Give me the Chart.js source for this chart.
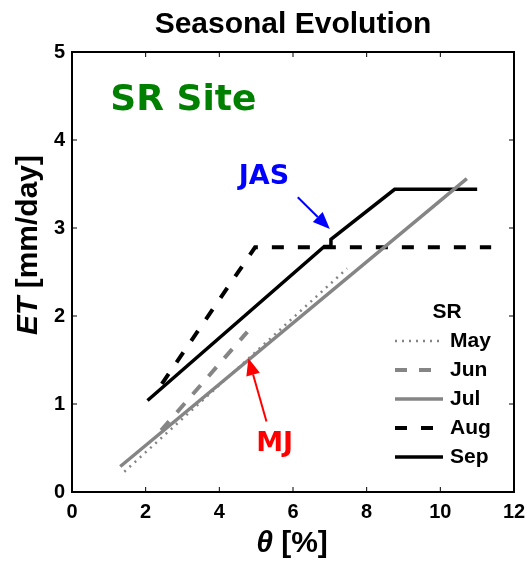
<!DOCTYPE html>
<html>
<head>
  <title>Seasonal Evolution</title>
  <style>
    body { margin: 0; background: #fff; }
  </style>
</head>
<body>
  <canvas id="myChart" width="527" height="561"></canvas>

  <script src="https://cdn.jsdelivr.net/npm/chart.js"></script>
  <script>
    // values (theta in %, ET in mm/day)
    var months = ['May', 'Jun', 'Jul', 'Aug', 'Sep'];
    var mayX = [1.42, 7.47];
    var mayY = [0.23, 2.54];
    var junX = [2.42, 4.76];
    var junY = [0.70, 1.82];
    var julX = [1.31, 10.72];
    var julY = [0.29, 3.56];
    var augX = [2.44, 4.97, 11.38];
    var augY = [1.23, 2.78, 2.78];
    var sepX = [2.05, 6.85, 7.03, 7.03, 8.76, 11.0];
    var sepY = [1.04, 2.79, 2.79, 2.87, 3.44, 3.44];
    var xTicks = [0, 2, 4, 6, 8, 10, 12];
    var yTicks = [0, 1, 2, 3, 4, 5];

    var sans = "'Liberation Sans', Arial, sans-serif";
    var dejavu = "'DejaVu Sans', sans-serif";
    var gray = '#858585';

    function pts(xs, ys) {
      return xs.map(function(x, i) { return { x: x, y: ys[i] }; });
    }

    var datasets = [
      { label: months[0], data: pts(mayX, mayY), borderColor: gray, borderWidth: 2.5, borderDash: [2, 5] },
      { label: months[1], data: pts(junX, junY), borderColor: gray, borderWidth: 4, borderDash: [12, 12] },
      { label: months[2], data: pts(julX, julY), borderColor: gray, borderWidth: 3.5 },
      { label: months[3], data: pts(augX, augY), borderColor: '#000', borderWidth: 4, borderDash: [12, 14] },
      { label: months[4], data: pts(sepX, sepY), borderColor: '#000', borderWidth: 3.5 }
    ];
    datasets.forEach(function(d) {
      d.showLine = true;
      d.pointRadius = 0;
      d.fill = false;
      d.tension = 0;
    });

    function arrow(ctx, x1, y1, x2, y2, color) {
      var a = Math.atan2(y2 - y1, x2 - x1);
      var len = 17, hw = 7;
      ctx.save();
      ctx.strokeStyle = color;
      ctx.fillStyle = color;
      ctx.lineWidth = 2;
      ctx.beginPath();
      ctx.moveTo(x1, y1);
      ctx.lineTo(x2 - Math.cos(a) * len, y2 - Math.sin(a) * len);
      ctx.stroke();
      ctx.beginPath();
      ctx.moveTo(x2, y2);
      ctx.lineTo(x2 - Math.cos(a) * len - Math.sin(a) * hw, y2 - Math.sin(a) * len + Math.cos(a) * hw);
      ctx.lineTo(x2 - Math.cos(a) * len + Math.sin(a) * hw, y2 - Math.sin(a) * len - Math.cos(a) * hw);
      ctx.closePath();
      ctx.fill();
      ctx.restore();
    }

    var extras = {
      id: 'extras',
      afterDraw: function(chart) {
        var ctx = chart.ctx;
        var ca = chart.chartArea;
        var xs = chart.scales.x, ys = chart.scales.y;

        // axes box and inward ticks
        ctx.save();
        ctx.strokeStyle = '#000';
        ctx.lineWidth = 2;
        ctx.strokeRect(ca.left, ca.top, ca.right - ca.left, ca.bottom - ca.top);
        ctx.lineWidth = 1;
        ctx.beginPath();
        xTicks.slice(1, -1).forEach(function(v) {
          var px = xs.getPixelForValue(v);
          ctx.moveTo(px, ca.bottom); ctx.lineTo(px, ca.bottom - 5);
          ctx.moveTo(px, ca.top); ctx.lineTo(px, ca.top + 5);
        });
        yTicks.slice(1, -1).forEach(function(v) {
          var py = ys.getPixelForValue(v);
          ctx.moveTo(ca.left, py); ctx.lineTo(ca.left + 5, py);
          ctx.moveTo(ca.right, py); ctx.lineTo(ca.right - 5, py);
        });
        ctx.stroke();

        // title
        ctx.fillStyle = '#000';
        ctx.textAlign = 'center';
        ctx.textBaseline = 'alphabetic';
        ctx.font = 'bold 30px ' + sans;
        ctx.fillText('Seasonal Evolution', (ca.left + ca.right) / 2, 33);

        // x axis title
        ctx.font = 'italic bold 30px ' + sans;
        var w1 = ctx.measureText('\u03b8').width;
        ctx.font = 'bold 30px ' + sans;
        var w2 = ctx.measureText(' [%]').width;
        var x0 = 292 - (w1 + w2) / 2;
        ctx.textAlign = 'left';
        ctx.font = 'italic bold 30px ' + sans;
        ctx.fillText('\u03b8', x0, 552);
        ctx.font = 'bold 30px ' + sans;
        ctx.fillText(' [%]', x0 + w1, 552);

        // y axis title
        ctx.save();
        ctx.translate(37, 245);
        ctx.rotate(-Math.PI / 2);
        ctx.font = 'italic bold 30px ' + sans;
        var e1 = ctx.measureText('ET').width;
        ctx.font = 'bold 30px ' + sans;
        var e2 = ctx.measureText(' [mm/day]').width;
        var s0 = -(e1 + e2) / 2;
        ctx.font = 'italic bold 30px ' + sans;
        ctx.fillText('ET', s0, 0);
        ctx.font = 'bold 30px ' + sans;
        ctx.fillText(' [mm/day]', s0 + e1, 0);
        ctx.restore();

        // annotations
        ctx.font = 'bold 36px ' + dejavu;
        ctx.fillStyle = '#008000';
        ctx.textBaseline = 'middle';
        ctx.fillText('SR Site', xs.getPixelForValue(1.04), ys.getPixelForValue(4.45));

        ctx.font = 'bold 27px ' + dejavu;
        ctx.textAlign = 'center';
        ctx.fillStyle = '#0000ff';
        ctx.fillText('JAS', xs.getPixelForValue(5.21), ys.getPixelForValue(3.58));
        arrow(ctx, xs.getPixelForValue(6.13), ys.getPixelForValue(3.35),
              xs.getPixelForValue(7.0), ys.getPixelForValue(2.99), '#0000ff');

        ctx.fillStyle = '#ff0000';
        ctx.fillText('MJ', xs.getPixelForValue(5.5), ys.getPixelForValue(0.54));
        arrow(ctx, xs.getPixelForValue(5.28), ys.getPixelForValue(0.80),
              xs.getPixelForValue(4.79), ys.getPixelForValue(1.52), '#ff0000');

        // legend
        var lx = ca.right - 119;
        var ly = ca.top + 289;
        ctx.fillStyle = '#000';
        ctx.font = 'bold 21px ' + sans;
        ctx.textAlign = 'center';
        ctx.fillText('SR', lx + 52, ca.top + 260);
        ctx.textAlign = 'left';
        chart.data.datasets.forEach(function(d, i) {
          var y = ly + i * 29;
          ctx.save();
          ctx.strokeStyle = d.borderColor;
          ctx.lineWidth = d.borderWidth;
          ctx.setLineDash(d.borderDash || []);
          ctx.beginPath();
          ctx.moveTo(lx, y);
          ctx.lineTo(lx + 48, y);
          ctx.stroke();
          ctx.restore();
          ctx.fillStyle = '#000';
          ctx.fillText(d.label, lx + 55, y);
        });
        ctx.restore();
      }
    };

    var tickFont = { family: sans, size: 20, weight: 'bold' };

    var ctx = document.getElementById('myChart').getContext('2d');
    var chart = new Chart(ctx, {
      type: 'scatter',
      data: { datasets: datasets },
      options: {
        responsive: false,
        animation: false,
        devicePixelRatio: 1,
        layout: { autoPadding: false, padding: { top: 52, right: 13, left: 0, bottom: 0 } },
        plugins: {
          legend: { display: false },
          tooltip: { enabled: false },
          title: { display: false }
        },
        scales: {
          x: {
            type: 'linear',
            min: 0,
            max: 12,
            afterBuildTicks: function(s) { s.ticks = xTicks.map(function(v) { return { value: v }; }); },
            afterFit: function(s) {
              s.height = 69;
              s.paddingLeft = 0;
              s.paddingRight = 0;
            },
            ticks: { font: tickFont, color: '#000', padding: 8, maxRotation: 0 },
            grid: { display: false, drawTicks: false },
            border: { display: false }
          },
          y: {
            type: 'linear',
            min: 0,
            max: 5,
            afterBuildTicks: function(s) { s.ticks = yTicks.map(function(v) { return { value: v }; }); },
            afterFit: function(s) {
              s.width = 72;
              s.paddingTop = 0;
              s.paddingBottom = 0;
            },
            ticks: { font: tickFont, color: '#000', padding: 7 },
            grid: { display: false, drawTicks: false },
            border: { display: false }
          }
        }
      },
      plugins: [extras]
    });
  </script>
</body>
</html>
